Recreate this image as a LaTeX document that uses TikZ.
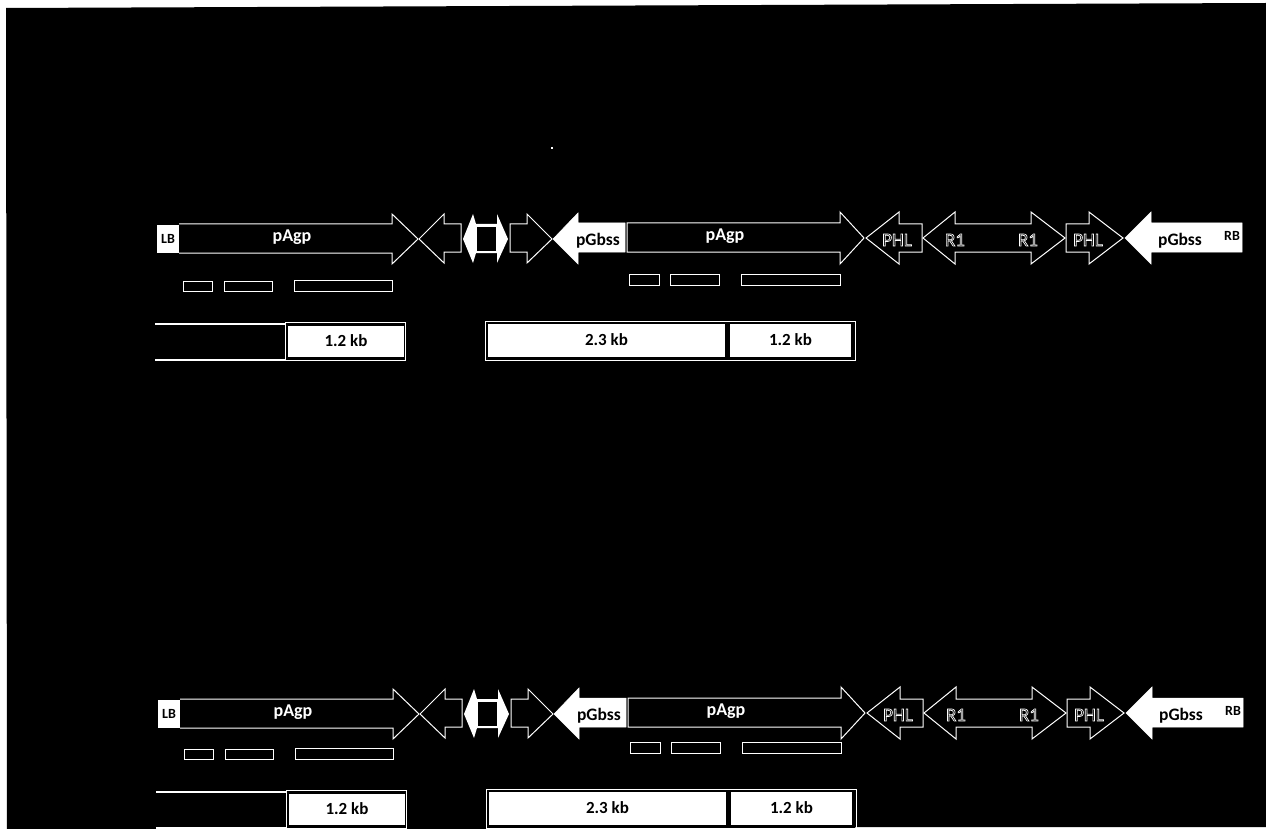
\documentclass[tikz,border=0pt]{standalone}
\usepackage{fontspec}
\setmainfont{Carlito}
\usetikzlibrary{positioning}
\newcommand{\hollowtext}[1]{\special{pdf:literal 1 Tr 0.7 w}#1\special{pdf:literal 0 Tr}}
\tikzset{
    gene/.style={draw=white, fill=black, line width=1pt, line join=miter},
    promoter/.style={draw=white, fill=white, line width=0.5pt},
    exon/.style={draw=white, fill=black, line width=1pt},
    sizebox/.style={fill=white, text=black, font=\bfseries\fontsize{17}{17}\selectfont},
    sizeframe/.style={draw=white, line width=0.4pt},
    whitelabel/.style={text=white, font=\bfseries\fontsize{18}{18}\selectfont},
    blacklabel/.style={text=black, font=\bfseries\fontsize{17.5}{17.5}\selectfont},
    smalllabel/.style={text=black, font=\bfseries\fontsize{14}{14}\selectfont},
    outlabel/.style={text=white, font=\fontsize{19}{19}\selectfont}
}
\begin{document}
\begin{tikzpicture}[x=1pt, y=-1pt]
    \useasboundingbox (0,0) rectangle (1266,829);
    \fill[white] (0,0) rectangle (1266,829);
    % scanned page, slightly skewed
    \fill[black] (6,8) -- (1266,3) -- (1266,827) -- (855,827) -- (855,829) -- (7,829) -- cycle;
    \fill[white] (551,147) rectangle (553,149);
    % both constructs, second one lower down
    \foreach \r/\dx/\ay/\by in {top/0/0/0, low/1/475/468} {
    \begin{scope}[xshift=\dx pt, yshift=-\ay pt]
        % left half
        \node (lb\r) [fill=white, minimum width=22pt, minimum height=28pt, inner sep=0pt, smalllabel] at (168,239) {LB};
        \draw[gene] (179,224) -- (392,224) -- (392,214) -- (418,239) -- (392,264) -- (392,253) -- (179,253);
        \node (agpa\r) [whitelabel] at (292,237) {pAgp};
        \draw[gene] (419,239) -- (444,214) -- (444,224) -- (461,224) -- (461,252) -- (444,252) -- (444,263) -- cycle;
        \fill[white] (463,239) -- (473,214) -- (476,224) -- (497,224) -- (497,214) -- (508,239) -- (497,263) -- (497,253) -- (476,253) -- (473,263) -- cycle;
        \fill[black] (477,227) rectangle (496,251);
        \draw[gene] (510,224) -- (527,224) -- (527,214) -- (552,239) -- (527,263) -- (527,252) -- (510,252) -- cycle;
        \draw[promoter] (553,239) -- (578,213) -- (578,223) -- (625,223) -- (625,252) -- (578,252) -- (578,264) -- cycle;
        \node (gbssa\r) [blacklabel] at (598,241) {pGbss};
        % right half
        \draw[gene] (627,223) -- (840,223) -- (840,212) -- (864,238) -- (840,264) -- (840,252) -- (627,252) -- cycle;
        \node (agpb\r) [whitelabel] at (725,236) {pAgp};
        \draw[gene] (866,238) -- (899,212) -- (899,224) -- (922,224) -- (922,252) -- (899,252) -- (899,264) -- cycle;
        \node (phla\r) [outlabel] at (897,240) {\hollowtext{PHL}};
        \draw[gene] (923,238) -- (955,212) -- (955,224) -- (1031,224) -- (1031,212) -- (1065,238) -- (1031,264) -- (1031,252) -- (955,252) -- (955,264) -- cycle;
        \node (rone\r) [outlabel] at (955,240) {\hollowtext{R1}};
        \node (rtwo\r) [outlabel] at (1028,240) {\hollowtext{R1}};
        \draw[gene] (1066,224) -- (1089,224) -- (1089,212) -- (1123,238) -- (1089,264) -- (1089,252) -- (1066,252) -- cycle;
        \node (phlb\r) [outlabel] at (1088,240) {\hollowtext{PHL}};
        \draw[promoter] (1125,238) -- (1151,212) -- (1151,223) -- (1242,223) -- (1242,252) -- (1151,252) -- (1151,264) -- cycle;
        \node (gbssb\r) [blacklabel] at (1180,241) {pGbss};
        \node (rb\r) [smalllabel] at (1232,236) {RB};
    \end{scope}
    \begin{scope}[xshift=\dx pt, yshift=-\by pt]
        % exon boxes
        \draw[exon] (183,281) rectangle (212,291);
        \draw[exon] (224,281) rectangle (272,291);
        \draw[exon] (294,280) rectangle (392,291);
        \draw[exon] (629,274) rectangle (659,285);
        \draw[exon] (670,274) rectangle (719,285);
        \draw[exon] (741,274) rectangle (840,285);
        % fragment sizes
        \draw[white, line width=1.2pt] (155,324) -- (285,324);
        \draw[white, line width=1.2pt] (155,360) -- (285,360);
        \draw[sizeframe] (285,322) rectangle (405,360);
        \node (sizea\r) [sizebox, minimum width=116pt, minimum height=31pt, inner sep=0pt] at (346,341) {1.2 kb};
        \draw[sizeframe] (485,321) rectangle (855,360);
        \node (sizeb\r) [sizebox, minimum width=237pt, minimum height=33pt, inner sep=0pt] at (606.5,340) {2.3 kb};
        \node (sizec\r) [sizebox, minimum width=121pt, minimum height=33pt, inner sep=0pt] at (790.5,340) {1.2 kb};
    \end{scope}
    }
\end{tikzpicture}
\end{document}
